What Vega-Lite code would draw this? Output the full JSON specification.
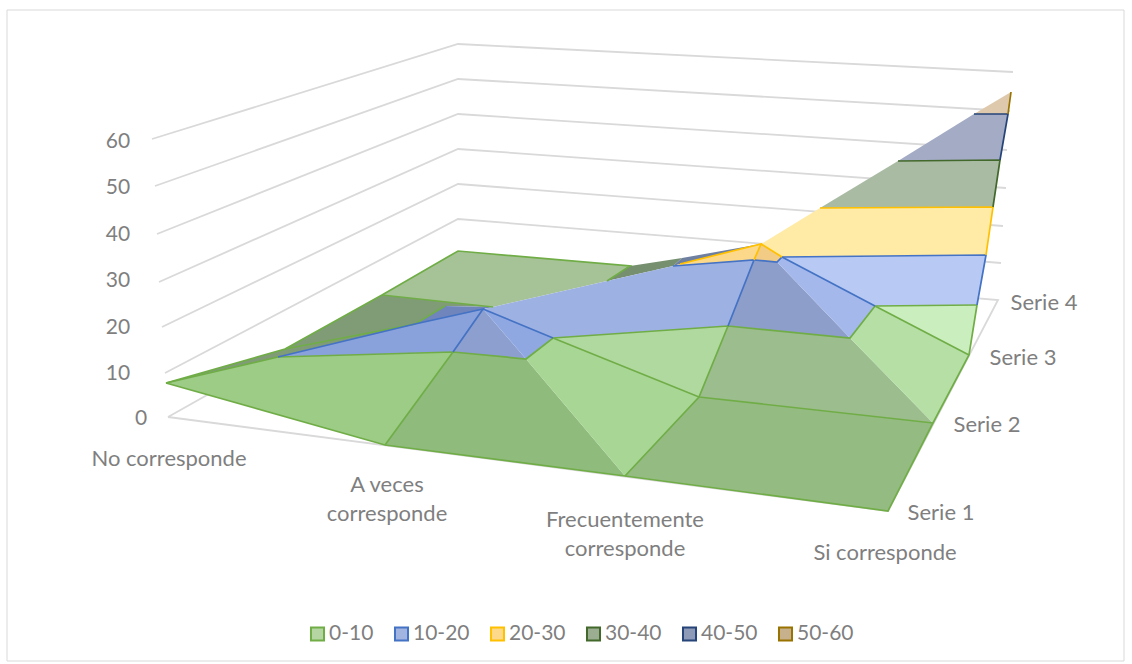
{
"$schema":"https://vega.github.io/schema/vega-lite/v6.json",
"width":1132,"height":664,"padding":0,"autosize":"none",
"background":"#ffffff","view":{"stroke":null},
"datasets":{
"border":[
{"g":"border","seq":1,"u":7,"v":10},{"g":"border","seq":2,"u":1124,"v":10},{"g":"border","seq":3,"u":1124,"v":661},{"g":"border","seq":4,"u":7,"v":661},{"g":"border","seq":5,"u":7,"v":10}
],
"grid":[
{"g":"l60","seq":1,"u":152,"v":139},{"g":"l60","seq":2,"u":458,"v":44},{"g":"l60","seq":3,"u":1013,"v":72},
{"g":"l50","seq":1,"u":155,"v":186},{"g":"l50","seq":2,"u":458,"v":79},{"g":"l50","seq":3,"u":1010,"v":111},
{"g":"l40","seq":1,"u":157,"v":234},{"g":"l40","seq":2,"u":458,"v":114},{"g":"l40","seq":3,"u":1007,"v":150},
{"g":"l30","seq":1,"u":159,"v":282},{"g":"l30","seq":2,"u":458,"v":149},{"g":"l30","seq":3,"u":1006,"v":188},
{"g":"l20","seq":1,"u":162,"v":327},{"g":"l20","seq":2,"u":458,"v":184},{"g":"l20","seq":3,"u":1003,"v":226},
{"g":"l10","seq":1,"u":165,"v":373},{"g":"l10","seq":2,"u":458,"v":219},{"g":"l10","seq":3,"u":1001,"v":263},
{"g":"l0","seq":1,"u":168,"v":417},{"g":"l0","seq":2,"u":458,"v":254},{"g":"l0","seq":3,"u":998,"v":300},{"g":"l0","seq":4,"u":888,"v":511},{"g":"l0","seq":5,"u":168,"v":417}
],
"faces":[
{"face":"f01","seq":1,"u":458,"v":251},{"face":"f01","seq":2,"u":382,"v":295},{"face":"f01","seq":3,"u":493,"v":307},{"face":"f01","seq":4,"u":607,"v":281},{"face":"f01","seq":5,"u":630,"v":266},
{"face":"f02","seq":1,"u":382,"v":295},{"face":"f02","seq":2,"u":285,"v":349},{"face":"f02","seq":3,"u":166,"v":383},{"face":"f02","seq":4,"u":278,"v":357},{"face":"f02","seq":5,"u":415,"v":324},{"face":"f02","seq":6,"u":445,"v":306},{"face":"f02","seq":7,"u":493,"v":307},
{"face":"f03","seq":1,"u":607,"v":281},{"face":"f03","seq":2,"u":630,"v":266},{"face":"f03","seq":3,"u":682,"v":258},{"face":"f03","seq":4,"u":673,"v":266},
{"face":"f04","seq":1,"u":682,"v":258},{"face":"f04","seq":2,"u":761,"v":244},{"face":"f04","seq":3,"u":680,"v":264},{"face":"f04","seq":4,"u":673,"v":266},
{"face":"f05","seq":1,"u":278,"v":357},{"face":"f05","seq":2,"u":453,"v":352},{"face":"f05","seq":3,"u":483,"v":309},{"face":"f05","seq":4,"u":415,"v":324},
{"face":"f06","seq":1,"u":415,"v":324},{"face":"f06","seq":2,"u":445,"v":306},{"face":"f06","seq":3,"u":493,"v":307},{"face":"f06","seq":4,"u":483,"v":309},
{"face":"f07","seq":1,"u":453,"v":352},{"face":"f07","seq":2,"u":483,"v":309},{"face":"f07","seq":3,"u":526,"v":359},
{"face":"f08","seq":1,"u":483,"v":309},{"face":"f08","seq":2,"u":553,"v":338},{"face":"f08","seq":3,"u":526,"v":359},
{"face":"f09","seq":1,"u":493,"v":307},{"face":"f09","seq":2,"u":607,"v":281},{"face":"f09","seq":3,"u":673,"v":266},{"face":"f09","seq":4,"u":754,"v":260},{"face":"f09","seq":5,"u":728,"v":326},{"face":"f09","seq":6,"u":553,"v":338},{"face":"f09","seq":7,"u":483,"v":309},
{"face":"f10","seq":1,"u":754,"v":260},{"face":"f10","seq":2,"u":777,"v":262},{"face":"f10","seq":3,"u":850,"v":338},{"face":"f10","seq":4,"u":728,"v":326},
{"face":"f11","seq":1,"u":782,"v":257},{"face":"f11","seq":2,"u":777,"v":262},{"face":"f11","seq":3,"u":850,"v":338},{"face":"f11","seq":4,"u":875,"v":306},
{"face":"f12","seq":1,"u":782,"v":257},{"face":"f12","seq":2,"u":986,"v":255},{"face":"f12","seq":3,"u":977,"v":305},{"face":"f12","seq":4,"u":875,"v":306},
{"face":"f13","seq":1,"u":680,"v":264},{"face":"f13","seq":2,"u":761,"v":244},{"face":"f13","seq":3,"u":754,"v":260},{"face":"f13","seq":4,"u":673,"v":266},
{"face":"f14","seq":1,"u":761,"v":244},{"face":"f14","seq":2,"u":782,"v":257},{"face":"f14","seq":3,"u":777,"v":262},{"face":"f14","seq":4,"u":754,"v":260},
{"face":"f15","seq":1,"u":761,"v":244},{"face":"f15","seq":2,"u":820,"v":208},{"face":"f15","seq":3,"u":993,"v":207},{"face":"f15","seq":4,"u":986,"v":255},{"face":"f15","seq":5,"u":782,"v":257},
{"face":"f16","seq":1,"u":820,"v":208},{"face":"f16","seq":2,"u":898,"v":161},{"face":"f16","seq":3,"u":1000,"v":160},{"face":"f16","seq":4,"u":993,"v":207},
{"face":"f17","seq":1,"u":898,"v":161},{"face":"f17","seq":2,"u":974,"v":114},{"face":"f17","seq":3,"u":1008,"v":114},{"face":"f17","seq":4,"u":1000,"v":160},
{"face":"f18","seq":1,"u":974,"v":114},{"face":"f18","seq":2,"u":1011,"v":92},{"face":"f18","seq":3,"u":1008,"v":114},
{"face":"f19","seq":1,"u":166,"v":383},{"face":"f19","seq":2,"u":385,"v":445},{"face":"f19","seq":3,"u":453,"v":352},{"face":"f19","seq":4,"u":278,"v":357},
{"face":"f20","seq":1,"u":385,"v":445},{"face":"f20","seq":2,"u":625,"v":476},{"face":"f20","seq":3,"u":526,"v":359},{"face":"f20","seq":4,"u":453,"v":352},
{"face":"f21","seq":1,"u":526,"v":359},{"face":"f21","seq":2,"u":553,"v":338},{"face":"f21","seq":3,"u":699,"v":397},{"face":"f21","seq":4,"u":625,"v":476},
{"face":"f22","seq":1,"u":553,"v":338},{"face":"f22","seq":2,"u":728,"v":326},{"face":"f22","seq":3,"u":699,"v":397},
{"face":"f23","seq":1,"u":728,"v":326},{"face":"f23","seq":2,"u":850,"v":338},{"face":"f23","seq":3,"u":933,"v":423},{"face":"f23","seq":4,"u":699,"v":397},
{"face":"f24","seq":1,"u":699,"v":397},{"face":"f24","seq":2,"u":933,"v":423},{"face":"f24","seq":3,"u":888,"v":511},{"face":"f24","seq":4,"u":625,"v":476},
{"face":"f25","seq":1,"u":850,"v":338},{"face":"f25","seq":2,"u":875,"v":306},{"face":"f25","seq":3,"u":969,"v":355},{"face":"f25","seq":4,"u":933,"v":423},
{"face":"f26","seq":1,"u":875,"v":306},{"face":"f26","seq":2,"u":977,"v":305},{"face":"f26","seq":3,"u":969,"v":355}
],
"edges":[
{"e":"g1","band":"0-10","seq":1,"u":166,"v":383},{"e":"g1","band":"0-10","seq":2,"u":385,"v":445},{"e":"g1","band":"0-10","seq":3,"u":625,"v":476},{"e":"g1","band":"0-10","seq":4,"u":888,"v":511},{"e":"g1","band":"0-10","seq":5,"u":933,"v":423},{"e":"g1","band":"0-10","seq":6,"u":969,"v":355},{"e":"g1","band":"0-10","seq":7,"u":977,"v":305},
{"e":"g2","band":"0-10","seq":1,"u":166,"v":383},{"e":"g2","band":"0-10","seq":2,"u":278,"v":357},{"e":"g2","band":"0-10","seq":3,"u":453,"v":352},{"e":"g2","band":"0-10","seq":4,"u":526,"v":359},{"e":"g2","band":"0-10","seq":5,"u":553,"v":338},{"e":"g2","band":"0-10","seq":6,"u":728,"v":326},{"e":"g2","band":"0-10","seq":7,"u":850,"v":338},{"e":"g2","band":"0-10","seq":8,"u":875,"v":306},{"e":"g2","band":"0-10","seq":9,"u":977,"v":305},
{"e":"g3","band":"0-10","seq":1,"u":385,"v":445},{"e":"g3","band":"0-10","seq":2,"u":453,"v":352},
{"e":"g4","band":"0-10","seq":1,"u":625,"v":476},{"e":"g4","band":"0-10","seq":2,"u":699,"v":397},{"e":"g4","band":"0-10","seq":3,"u":728,"v":326},
{"e":"g5","band":"0-10","seq":1,"u":553,"v":338},{"e":"g5","band":"0-10","seq":2,"u":699,"v":397},{"e":"g5","band":"0-10","seq":3,"u":933,"v":423},
{"e":"g6","band":"0-10","seq":1,"u":875,"v":306},{"e":"g6","band":"0-10","seq":2,"u":969,"v":355},
{"e":"g7","band":"0-10","seq":1,"u":166,"v":383},{"e":"g7","band":"0-10","seq":2,"u":285,"v":349},{"e":"g7","band":"0-10","seq":3,"u":382,"v":295},{"e":"g7","band":"0-10","seq":4,"u":458,"v":251},{"e":"g7","band":"0-10","seq":5,"u":630,"v":266},{"e":"g7","band":"0-10","seq":6,"u":607,"v":281},
{"e":"g8","band":"0-10","seq":1,"u":382,"v":295},{"e":"g8","band":"0-10","seq":2,"u":493,"v":307},
{"e":"g9","band":"0-10","seq":1,"u":285,"v":349},{"e":"g9","band":"0-10","seq":2,"u":415,"v":324},{"e":"g9","band":"0-10","seq":3,"u":445,"v":306},
{"e":"b1","band":"10-20","seq":1,"u":278,"v":357},{"e":"b1","band":"10-20","seq":2,"u":415,"v":324},{"e":"b1","band":"10-20","seq":3,"u":483,"v":309},{"e":"b1","band":"10-20","seq":4,"u":453,"v":352},
{"e":"b2","band":"10-20","seq":1,"u":483,"v":309},{"e":"b2","band":"10-20","seq":2,"u":553,"v":338},
{"e":"b3","band":"10-20","seq":1,"u":673,"v":266},{"e":"b3","band":"10-20","seq":2,"u":754,"v":260},{"e":"b3","band":"10-20","seq":3,"u":728,"v":326},
{"e":"b4","band":"10-20","seq":1,"u":754,"v":260},{"e":"b4","band":"10-20","seq":2,"u":777,"v":262},{"e":"b4","band":"10-20","seq":3,"u":782,"v":257},{"e":"b4","band":"10-20","seq":4,"u":986,"v":255},{"e":"b4","band":"10-20","seq":5,"u":977,"v":305},
{"e":"b5","band":"10-20","seq":1,"u":782,"v":257},{"e":"b5","band":"10-20","seq":2,"u":875,"v":306},
{"e":"y1","band":"20-30","seq":1,"u":680,"v":264},{"e":"y1","band":"20-30","seq":2,"u":761,"v":244},{"e":"y1","band":"20-30","seq":3,"u":754,"v":260},
{"e":"y2","band":"20-30","seq":1,"u":761,"v":244},{"e":"y2","band":"20-30","seq":2,"u":782,"v":257},
{"e":"y3","band":"20-30","seq":1,"u":820,"v":208},{"e":"y3","band":"20-30","seq":2,"u":993,"v":207},{"e":"y3","band":"20-30","seq":3,"u":986,"v":255},
{"e":"d1","band":"30-40","seq":1,"u":898,"v":161},{"e":"d1","band":"30-40","seq":2,"u":1000,"v":160},{"e":"d1","band":"30-40","seq":3,"u":993,"v":207},
{"e":"n1","band":"40-50","seq":1,"u":974,"v":114},{"e":"n1","band":"40-50","seq":2,"u":1008,"v":114},{"e":"n1","band":"40-50","seq":3,"u":1000,"v":160},
{"e":"o1","band":"50-60","seq":1,"u":1008,"v":114},{"e":"o1","band":"50-60","seq":2,"u":1011,"v":92}
],
"ticks":[
{"t":"0","u":141,"v":417},{"t":"10","u":118,"v":372},{"t":"20","u":118,"v":326},{"t":"30","u":118,"v":279},{"t":"40","u":118,"v":233},{"t":"50","u":118,"v":186},{"t":"60","u":118,"v":140}
],
"labels":[
{"t":"No corresponde","u":169,"v":458},{"t":"A veces","u":387,"v":484},{"t":"corresponde","u":387,"v":513},{"t":"Frecuentemente","u":625,"v":519},{"t":"corresponde","u":625,"v":548},{"t":"Si corresponde","u":885,"v":552},
{"t":"Serie 1","u":941,"v":512},{"t":"Serie 2","u":987,"v":424},{"t":"Serie 3","u":1023,"v":357},{"t":"Serie 4","u":1044,"v":302}
]
},
"layer":[
{"data":{"name":"border"},"mark":{"type":"line","stroke":"#D9D9D9","strokeWidth":1},
"encoding":{"x":{"field":"u","type":"quantitative","scale":{"domain":[0,1132],"nice":false},"axis":null},"y":{"field":"v","type":"quantitative","scale":{"domain":[664,0],"nice":false},"axis":null},"order":{"field":"seq"}}},
{"data":{"name":"grid"},"mark":{"type":"line","stroke":"#D9D9D9","strokeWidth":1.8},
"encoding":{"x":{"field":"u","type":"quantitative","axis":null},"y":{"field":"v","type":"quantitative","axis":null},"detail":{"field":"g"},"order":{"field":"seq"}}},
{"data":{"name":"faces"},"mark":{"type":"line","strokeWidth":0,"strokeOpacity":0},
"encoding":{"x":{"field":"u","type":"quantitative","axis":null},"y":{"field":"v","type":"quantitative","axis":null},"detail":{"field":"face"},"order":{"field":"seq"},
"fill":{"field":"face","type":"nominal","legend":null,"scale":{"domain":["f01","f02","f03","f04","f05","f06","f07","f08","f09","f10","f11","f12","f13","f14","f15","f16","f17","f18","f19","f20","f21","f22","f23","f24","f25","f26"],"range":["#A6C397","#7F9C76","#76906F","#6E7FA0","#8AA2DB","#7085BC","#8C9FCF","#8FA8E2","#9EB1E3","#8C9EC9","#A5B8EC","#B8CAF3","#FCD98A","#F2CB85","#FFEAA6","#A9BBA3","#A3ABC5","#DFC9AD","#9CCC86","#8FBB7D","#A8D695","#AFD99E","#9CBD8D","#94BC82","#B5DFA5","#CBEEBF"]}}}},
{"data":{"name":"edges"},"mark":{"type":"line","strokeWidth":1.7},
"encoding":{"x":{"field":"u","type":"quantitative","axis":null},"y":{"field":"v","type":"quantitative","axis":null},"detail":{"field":"e"},"order":{"field":"seq"},
"stroke":{"field":"band","type":"nominal","scale":{"domain":["0-10","10-20","20-30","30-40","40-50","50-60"],"range":["#70AD47","#4472C4","#FFC000","#43682B","#264478","#997300"]},
"legend":{"orient":"none","legendX":307,"legendY":623,"direction":"horizontal","columns":6,"title":null,"symbolType":"square","symbolSize":170,"symbolStrokeWidth":2,"labelFont":"Lato","labelFontSize":21,"labelColor":"#7F7F7F","labelOffset":1,"columnPadding":16,
"encode":{"symbols":{"update":{"fill":{"signal":"{'0-10':'#B5D6A2','10-20':'#A2B4E0','20-30':'#FFD98A','30-40':'#9BAE92','40-50':'#8E9BB8','50-60':'#C7B08C'}[datum.value]"},"opacity":{"value":1}}}}}}}},
{"data":{"name":"ticks"},"mark":{"type":"text","font":"Lato","fontSize":21,"fill":"#7F7F7F","align":"center","baseline":"middle","dy":2},
"encoding":{"x":{"field":"u","type":"quantitative","axis":null},"y":{"field":"v","type":"quantitative","axis":null},"text":{"field":"t"}}},
{"data":{"name":"labels"},"mark":{"type":"text","font":"Lato","fontSize":22,"fill":"#7F7F7F","align":"center","baseline":"middle","dy":1},
"encoding":{"x":{"field":"u","type":"quantitative","axis":null},"y":{"field":"v","type":"quantitative","axis":null},"text":{"field":"t"}}}
]
}
